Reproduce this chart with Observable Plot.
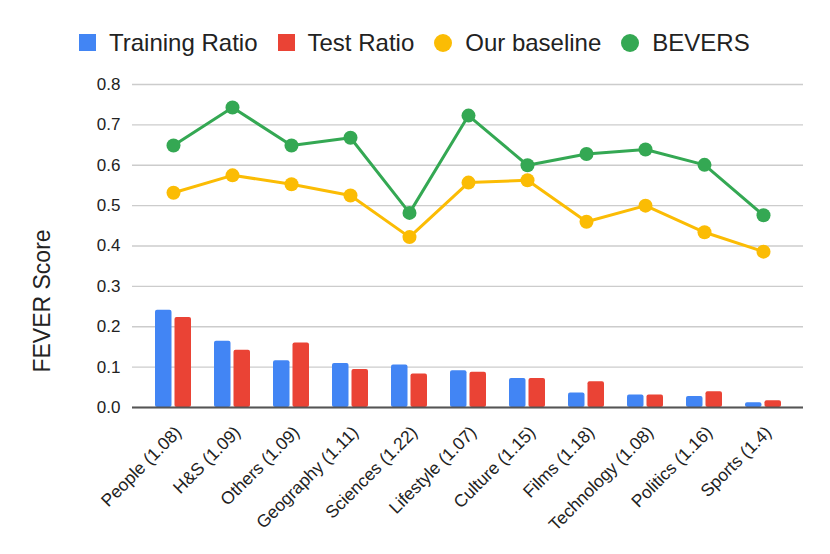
<!DOCTYPE html>
<html>
<head>
<meta charset="utf-8">
<script src="https://cdn.jsdelivr.net/npm/d3@7"></script>
<script src="https://cdn.jsdelivr.net/npm/@observablehq/plot@0.6"></script>
<style>
  html, body { margin: 0; padding: 0; background: #fff; }
  body { width: 830px; height: 554px; overflow: hidden; position: relative; font-family: "Liberation Sans", Arial, sans-serif; }
  #legend { box-sizing: content-box; height: 55px; padding-top: 15px; padding-left: 79px; display: flex; align-items: center; font-size: 24px; color: #222; }
  .item { display: flex; align-items: center; margin-right: 20px; }
  .sw { width: 17px; height: 17px; margin-right: 13px; }
  .ci { width: 18px; height: 18px; border-radius: 50%; margin-right: 13px; }
  #ytitle { position: absolute; left: 42px; top: 301px; transform: translate(-50%, -50%) rotate(-90deg); font-size: 23px; color: #222; white-space: nowrap; }
</style>
</head>
<body>
<div id="legend"></div>
<div id="chart"></div>
<div id="ytitle">FEVER Score</div>
<script>
const categories = ["People (1.08)", "H&S (1.09)", "Others (1.09)", "Geography (1.11)", "Sciences (1.22)", "Lifestyle (1.07)", "Culture (1.15)", "Films (1.18)", "Technology (1.08)", "Politics (1.16)", "Sports (1.4)"];
const trainingRatio = [0.241, 0.164, 0.116, 0.109, 0.105, 0.091, 0.072, 0.036, 0.031, 0.027, 0.012];
const testRatio = [0.223, 0.142, 0.160, 0.094, 0.083, 0.087, 0.072, 0.064, 0.031, 0.039, 0.017];
const ourBaseline = [0.532, 0.575, 0.553, 0.525, 0.422, 0.557, 0.563, 0.460, 0.500, 0.434, 0.386];
const bevers = [0.649, 0.743, 0.649, 0.668, 0.482, 0.723, 0.600, 0.628, 0.639, 0.601, 0.476];
const yTicks = [0, 0.1, 0.2, 0.3, 0.4, 0.5, 0.6, 0.7, 0.8];
const seriesNames = ["Training Ratio", "Test Ratio", "Our baseline", "BEVERS"];
const seriesColors = ["#4285F4", "#EA4335", "#FBBC04", "#34A853"];

// legend
const legend = document.getElementById("legend");
seriesNames.forEach((name, i) => {
  const item = document.createElement("div");
  item.className = "item";
  const m = document.createElement("div");
  m.className = i < 2 ? "sw" : "ci";
  m.style.background = seriesColors[i];
  const t = document.createElement("span");
  t.textContent = name;
  item.appendChild(m); item.appendChild(t);
  legend.appendChild(item);
});

const rows = categories.map((c, i) => ({
  cat: c, train: trainingRatio[i], test: testRatio[i], base: ourBaseline[i], bevers: bevers[i]
}));

const chart = Plot.plot({
  width: 830,
  height: 484,
  marginTop: 14,
  marginBottom: 147,
  marginLeft: 132,
  marginRight: 27,
  style: { fontFamily: "'Liberation Sans', Arial, sans-serif", fontSize: "17px", color: "#222", background: "white" },
  x: { type: "band", domain: categories, paddingInner: 0.39, paddingOuter: 0.372, label: null },
  y: { domain: [0, 0.8], label: null },
  marks: [
    Plot.gridY(yTicks, { stroke: "#cccccc", strokeOpacity: 1, strokeWidth: 1.3 }),
    Plot.barY(rows, { x: "cat", y: "train", fill: seriesColors[0], insetLeft: 0, insetRight: 19.5, rx: 2 }),
    Plot.barY(rows, { x: "cat", y: "test", fill: seriesColors[1], insetLeft: 19.5, insetRight: 0, rx: 2 }),
    Plot.ruleY([0], { stroke: "#555", strokeWidth: 2 }),
    Plot.line(rows, { x: "cat", y: "base", stroke: seriesColors[2], strokeWidth: 3 }),
    Plot.dot(rows, { x: "cat", y: "base", fill: seriesColors[2], r: 7 }),
    Plot.line(rows, { x: "cat", y: "bevers", stroke: seriesColors[3], strokeWidth: 3 }),
    Plot.dot(rows, { x: "cat", y: "bevers", fill: seriesColors[3], r: 7 }),
    Plot.axisY({ ticks: yTicks, tickFormat: d3.format(".1f"), tickSize: 0, tickPadding: 12, fontSize: 17, label: null }),
    Plot.axisX({ tickRotate: -45, tickSize: 0, tickPadding: 22, dx: 5, fontSize: 17.5, label: null })
  ]
});
document.getElementById("chart").appendChild(chart);
</script>
</body>
</html>
